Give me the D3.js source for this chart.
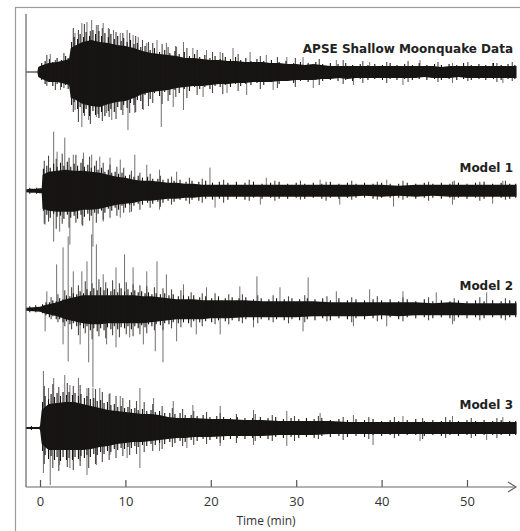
<!DOCTYPE html>
<html>
<head>
<meta charset="utf-8">
<script src="https://cdn.jsdelivr.net/npm/d3@7"></script>
<style>
  html, body { margin: 0; padding: 0; background: #fff; }
  svg { display: block; }
  .tick text { font-family: "Open Sans", sans-serif; font-size: 13px; fill: #333; }
  .label { font-family: "DejaVu Sans", sans-serif; font-weight: bold; font-size: 12px; fill: #222; }
</style>
</head>
<body>
<svg id="chart"></svg>
<script>
const width = 520;
const height = 531;

const traceNames = ["APSE Shallow Moonquake Data", "Model 1", "Model 2", "Model 3"];
const xTicks = [0, 10, 20, 30, 40, 50];

// solid inner part of each trace: [minute, upper, lower]
const dataCore = [[-1.6,0.5,0.5],[-0.3,0.5,0.5],[-0.2,5,5],[0,6,6],[1,9,10],[2,10,10],[3,12,12],[3.4,13,13],[3.6,24,26],[4,26,27],[5,30,32],[6,32,34],[7,30,35],[8,29,32],[9,27,30],[10,26,29],[11,24,26],[12,21,22],[13,19,20],[14,18,19],[15,17,18],[16,16,16],[17,14,15],[18,14,14],[19,13,14],[20,12,13],[21,12,12],[22,11,12],[23,11,11],[24,10,11],[25,10,10],[26,10,10],[27,9,10],[28,9,9],[29,8,9],[30,8,8],[31,7,8],[32,8,8],[33,7,7],[34,6,7],[35,6,6],[36,6,7],[37,6,6],[38,6,6],[39,6,6],[40,6,6],[41,6,6],[42,6,6],[43,6,6],[44,6,6],[45,6,5],[46,6,6],[47,5,6],[48,6,6],[49,6,5],[50,6,6],[51,6,6],[52,6,6],[53,6,6],[54,6,6],[55,6,6],[55.8,6,6]];
const model1Core = [[-1.6,1.5,1.5],[-1,2,2],[-0.5,2,2],[0,2.5,2.5],[0.2,2.5,2.5],[0.3,16,18],[1,19,20],[2,20,21],[3,21,21],[4,20,21],[5,20,19],[6,19,19],[7,18,18],[8,16,16],[9,14,14],[10,13,13],[11,11,12],[12,10,10],[13,10,10],[14,9,9],[15,8,8],[16,8,8],[17,7,7],[18,7,7],[19,6,6],[20,6,6],[22,6,6],[24,6,6],[26,6,6],[28,6,6],[30,6,6],[32,6,6],[34,6,6],[36,6,6],[38,6,5],[40,6,6],[42,5,5],[44,6,6],[46,6,5],[48,6,6],[50,6,6],[52,6,6],[54,6,6],[55.8,6,6]];
const model2Core = [[-1.6,1.5,1.5],[0,2.5,2.5],[0.5,4,4],[1,5,5],[2,7,7],[3,10,10],[4,12,12],[5,14,14],[6,14,15],[7,14,15],[8,14,14],[9,14,14],[10,14,14],[11,14,14],[12,13,14],[13,13,13],[14,12,12],[15,11,11],[16,10,10],[17,10,10],[18,10,10],[19,9,10],[20,9,9],[22,9,9],[24,9,8],[26,8,8],[28,8,8],[30,8,8],[32,8,7],[34,7,7],[36,7,7],[38,7,7],[40,7,6],[42,7,7],[44,7,6],[46,6,6],[48,7,6],[50,6,6],[52,6,6],[54,6,6],[55.8,6,6]];
const model3Core = [[-1.6,1,1],[-0.1,1,1],[0,2,2],[0.2,18,16],[1,24,22],[2,25,22],[3,26,22],[4,26,22],[5,24,22],[6,22,21],[7,20,19],[8,18,18],[9,17,16],[10,16,15],[11,15,14],[12,14,14],[13,14,13],[14,13,12],[15,11,11],[16,10,10],[17,10,10],[18,10,9],[20,9,9],[22,9,8],[24,8,8],[26,8,8],[28,7,7],[30,7,7],[32,7,7],[34,7,6],[36,6,6],[38,6,6],[40,6,6],[42,6,6],[44,6,6],[46,6,6],[48,6,6],[50,6,6],[52,6,6],[54,6,6],[55.8,6,6]];

// black wiggles making the ragged edge of the dense part: [minute, upper, lower]
const dataHair = [[0.2,9,8],[0.6,11,12],[1.1,13,10],[1.5,10,14],[2,14,12],[2.5,12,15],[3,16,13],[3.3,14,17],[3.7,30,33],[4,35,30],[4.4,33,37],[4.7,38,35],[5.1,35,41],[5.4,40,37],[5.8,36,44],[6.2,42,39],[6.5,38,43],[6.9,41,46],[7.2,36,40],[7.6,39,44],[8,35,39],[8.3,38,37],[8.7,33,40],[9.1,36,35],[9.5,31,38],[9.8,34,33],[10.2,30,36],[10.6,32,31],[11,28,33],[11.4,29,28],[11.8,25,29],[12.3,26,23],[12.9,22,27],[13.4,24,21],[14,20,24],[14.6,22,20],[15.2,19,23],[15.8,21,18],[16.3,18,21],[16.9,20,17],[17.5,16,19],[18.1,18,15],[18.7,15,17],[19.3,17,15],[19.9,14,17],[20.5,16,14],[21.1,13,15],[21.7,15,13],[22.3,13,15],[22.9,15,12],[23.5,12,14],[24.1,14,12],[24.7,11,13],[25.4,13,11],[26.2,11,13],[27.1,12,10],[28,10,12],[28.8,11,9],[29.7,9,11],[30.5,10,9],[31.4,9,10],[32.3,10,8],[33.1,8,9],[34,9,8],[34.9,8,9],[35.8,9,8],[36.6,7,9],[37.5,8,7],[38.4,7,8],[39.2,8,7],[40.1,7,8],[41,9,7],[41.8,7,8],[42.7,8,7],[43.6,7,8],[44.4,9,7],[45.3,7,8],[46.2,8,7],[47,7,8],[47.9,8,7],[48.8,7,8],[49.6,9,7],[50.5,7,8],[51.4,8,7],[52.2,7,8],[53.1,9,7],[54,7,8],[54.8,8,7],[55.6,7,7]];
const model1Hair = [[-1.2,3,3],[-0.4,3,3],[0.4,22,20],[0.8,25,24],[1.2,23,27],[1.6,27,23],[2,24,26],[2.4,28,25],[2.8,25,28],[3.2,29,24],[3.6,24,27],[4,27,25],[4.4,25,28],[4.8,28,24],[5.2,24,26],[5.6,26,23],[6,23,25],[6.4,25,22],[6.8,21,23],[7.2,23,20],[7.6,19,22],[8,21,18],[8.4,18,20],[8.8,19,17],[9.2,17,19],[9.6,18,15],[10,15,17],[10.5,16,14],[11,14,15],[11.5,15,13],[12,13,14],[12.6,14,12],[13.2,12,13],[13.8,12,11],[14.4,11,12],[15,12,10],[15.7,10,11],[16.4,11,9],[17.1,9,10],[17.8,10,9],[18.6,9,10],[19.4,10,8],[20.2,8,9],[21,9,8],[22,8,9],[23,9,8],[24,8,9],[25,9,7],[26,7,8],[27,8,7],[28,9,8],[29,7,8],[30,8,7],[31,7,8],[32,8,7],[33,7,8],[34,9,7],[35,7,8],[36,8,7],[37,7,7],[38,8,7],[39,7,8],[40,8,7],[41,7,7],[42,7,7],[43,8,7],[44,7,8],[45,8,7],[46,7,7],[47,8,8],[48,7,7],[49,8,7],[50,7,8],[51,8,7],[52,9,8],[53,7,7],[54,8,7],[55,7,8],[55.7,7,7]];
const model2Hair = [[-1.2,3,3],[-0.5,4,3],[0.3,5,4],[0.7,7,6],[1.1,7,8],[1.5,9,7],[1.9,8,10],[2.3,11,10],[2.7,10,13],[3.1,14,12],[3.5,13,15],[3.9,16,14],[4.3,15,17],[4.7,18,16],[5.1,16,19],[5.5,20,17],[5.9,18,21],[6.3,21,19],[6.7,19,22],[7.1,22,19],[7.5,19,21],[7.9,21,18],[8.3,18,20],[8.7,20,17],[9.1,17,20],[9.5,21,18],[9.9,18,19],[10.3,20,17],[10.7,17,20],[11.1,19,17],[11.5,17,19],[11.9,18,16],[12.3,16,18],[12.7,17,15],[13.1,15,17],[13.6,16,15],[14.1,15,16],[14.6,16,14],[15.1,14,15],[15.6,15,13],[16.2,13,14],[16.8,14,13],[17.4,13,14],[18,14,12],[18.7,12,13],[19.4,13,12],[20.1,11,13],[20.9,13,11],[21.7,11,12],[22.5,12,11],[23.3,11,12],[24.1,12,10],[25,10,11],[25.9,11,10],[26.8,10,11],[27.7,11,10],[28.6,10,11],[29.5,11,10],[30.4,10,11],[31.3,11,10],[32.2,10,11],[33.1,11,9],[34,9,11],[35,11,9],[36,9,10],[37,10,9],[38,9,10],[39,10,9],[40,9,10],[41,10,8],[42,8,10],[43,10,8],[44,8,9],[45,10,8],[46,8,9],[47,9,8],[48,8,9],[49,9,8],[50,8,9],[51,9,8],[52,8,9],[53,9,8],[54,8,9],[55,9,8],[55.7,8,8]];
const model3Hair = [[-1,2,2],[0.3,26,23],[0.6,32,27],[1,29,31],[1.3,34,28],[1.7,31,32],[2,35,29],[2.4,32,33],[2.7,36,29],[3.1,33,32],[3.4,36,30],[3.8,33,32],[4.1,35,29],[4.5,32,31],[4.8,34,28],[5.2,30,30],[5.5,32,27],[5.9,29,29],[6.3,30,26],[6.7,27,27],[7.1,28,24],[7.5,25,26],[7.9,26,23],[8.3,23,24],[8.7,24,21],[9.1,21,22],[9.5,22,20],[9.9,20,21],[10.3,21,19],[10.7,19,20],[11.1,20,18],[11.5,18,19],[12,19,17],[12.5,17,18],[13,18,16],[13.5,16,17],[14,17,15],[14.6,15,16],[15.2,15,14],[15.8,14,15],[16.4,15,13],[17,13,14],[17.7,13,12],[18.4,12,13],[19.1,13,11],[19.9,11,12],[20.7,12,11],[21.5,11,12],[22.3,10,11],[23.1,11,10],[24,10,11],[24.9,10,10],[25.8,11,10],[26.7,10,11],[27.6,11,9],[28.5,9,10],[29.4,10,9],[30.3,9,10],[31.2,10,9],[32.1,9,10],[33,10,8],[34,8,9],[35,9,8],[36,8,9],[37,9,8],[38,8,9],[39,9,7],[40,7,8],[41,8,7],[42,7,8],[43,8,7],[44,9,7],[45,7,8],[46,8,7],[47,7,8],[48,8,7],[49,7,8],[50,8,7],[51,7,8],[52,8,7],[53,7,7],[54,8,7],[55,7,8],[55.7,7,7]];

// grey wiggles just outside the dense part: [minute, upper, lower]
const dataFringe = [[0.8,17,14],[1.8,12,18],[2.8,19,16],[3.9,44,40],[4.5,42,50],[5.2,48,44],[5.9,41,52],[6.8,47,42],[7.3,44,49],[8.1,43,45],[8.9,40,47],[9.7,39,43],[10.5,39,41],[11.2,36,40],[12,32,37],[12.7,30,34],[13.2,29,31],[14.3,28,32],[15,25,29],[15.9,26,25],[17.2,24,26],[18.4,22,23],[20.2,20,21],[21.4,19,22],[23.2,18,19],[25.8,16,17],[27.8,15,16],[29.9,14,15],[32.7,13,13],[35.5,12,12],[37.8,11,11],[40.6,10,11],[43.1,11,10],[46.6,10,10],[50.1,10,9],[53.5,9,10],[55.3,10,9]];
const model1Fringe = [[0.5,30,33],[1,35,31],[1.9,32,38],[2.6,37,33],[3.4,33,37],[4.2,36,32],[5,32,35],[5.8,34,30],[6.6,30,32],[7.4,28,29],[8.2,26,27],[9,24,25],[9.8,23,22],[10.7,20,21],[11.7,18,19],[12.9,17,17],[14.1,15,16],[15.4,14,14],[17.5,13,13],[19,12,12],[21.5,11,12],[24.5,11,10],[27.5,10,10],[30.5,10,9],[33.5,9,10],[36.5,10,9],[39.5,9,9],[42.5,10,9],[45.5,9,10],[48.5,10,9],[51.5,9,10],[54.5,10,9]];
const model2Fringe = [[1.3,12,10],[2.1,15,13],[2.9,19,17],[3.7,22,20],[4.5,24,26],[5.3,28,24],[6.1,26,30],[6.9,30,27],[7.7,27,29],[8.5,29,26],[9.3,26,28],[10.1,27,25],[10.9,25,27],[11.7,24,25],[12.5,23,24],[13.4,22,21],[14.4,21,21],[15.4,20,19],[16.5,19,18],[17.7,17,18],[19,16,17],[20.5,16,15],[22.1,15,15],[23.7,15,14],[25.5,14,14],[27.3,14,13],[29.1,13,14],[31,14,13],[33.6,13,12],[36.5,12,13],[39.5,13,12],[42.5,12,12],[45.5,12,11],[48.5,11,12],[51.5,12,11],[54.5,11,11]];
const model3Fringe = [[0.5,42,36],[1.5,44,40],[2.2,41,43],[3.2,45,39],[3.9,42,42],[4.7,43,38],[5.7,40,40],[6.5,39,36],[7.3,36,34],[8.1,34,32],[8.9,32,30],[9.7,30,28],[10.5,28,27],[11.3,27,26],[12.2,26,24],[13.2,24,23],[14.3,22,21],[15.5,20,19],[16.7,19,18],[18,17,17],[19.5,16,16],[21.1,15,15],[23,14,15],[25.2,14,13],[27.2,13,13],[29.8,12,13],[32.6,12,11],[35.5,11,12],[38.5,11,11],[41.5,11,10],[44.8,10,11],[47.5,11,10],[50.5,10,10],[53.5,10,10]];

// single large excursions: [minute, amplitude] (+ up, - down)
const dataSpikes = [[1.2,18],[2.4,-18],[4.1,39],[4.9,49],[5.5,50],[6.05,52],[6.6,47],[7.4,49],[8,44],[8.6,42],[9.4,39],[10.2,42],[10.9,37],[11.5,35],[12.5,29],[13.7,32],[14.8,29],[16,25],[16.8,30],[17.9,24],[19.5,22],[21.1,20],[22.6,24],[24.6,20],[26.5,17],[28.9,15],[30.8,15],[34.7,12],[38.6,10],[44.5,12],[48.3,9],[53,9],[4.1,-38],[4.9,-55],[5.7,-48],[6.6,-45],[7.8,-41],[8.4,-48],[10.3,-58],[11.1,-41],[12.1,-38],[14.2,-55],[15.6,-35],[16.8,-38],[19.1,-25],[21.9,-21],[24.2,-23],[27.3,-18],[32,-16],[36.7,-13],[42.5,-13],[48.3,-11],[54.2,-11]];
const model1Spikes = [[1.6,59],[2.9,53],[2,39],[3.9,36],[5.1,38],[6.05,36],[7,34],[8.2,33],[9.4,31],[11.1,36],[12.5,26],[14,21],[16,19],[19.9,23],[26.5,13],[32.8,11],[40.6,11],[48.3,9],[54.2,10],[0.6,-34],[1.6,-51],[3.5,-54],[6.2,-56],[2.3,-41],[4.9,-34],[7.4,-31],[9.4,-27],[10.5,-22],[14,-19],[20.5,-17],[25.8,-14],[35.1,-14],[41.4,-16],[48.3,-14],[53,-13]];
const model2Spikes = [[0.8,18],[1.95,45],[2.7,62],[3.3,73],[3.9,38],[4.9,38],[5.5,48],[6.05,75],[6.6,65],[7.4,35],[8.9,42],[9.9,55],[10.9,42],[12.5,38],[13.7,48],[14.8,35],[16.8,25],[19.5,22],[23.4,23],[25.4,33],[28.1,22],[31.4,32],[34.7,18],[38.6,20],[42.5,18],[46.4,17],[52.3,17],[0.6,-22],[2.7,-35],[3.3,-52],[4.7,-35],[5.7,-53],[6.2,-78],[7.8,-35],[8.9,-38],[10.5,-28],[12.1,-35],[13.5,-42],[14.4,-53],[16,-32],[18.3,-25],[21.1,-25],[25,-18],[30.8,-22],[36.7,-17],[40.6,-17],[48.3,-15]];
const model3Spikes = [[0.4,57],[1,40],[1.6,50],[2.9,53],[3.5,43],[4.5,50],[5.5,40],[6.2,40],[7,40],[8.2,35],[9.4,32],[11.7,40],[13.3,30],[15.6,27],[17.9,23],[21.1,22],[25,18],[28.9,17],[32.8,15],[36.7,13],[42.5,12],[48.3,12],[54.2,11],[0.4,-45],[1.2,-57],[2.3,-37],[3.5,-40],[4.7,-33],[5.5,-47],[6.6,-37],[8.2,-27],[10.2,-30],[11.7,-40],[14,-23],[17.2,-20],[21.1,-18],[25,-17],[28.9,-18],[39,-17],[44.5,-13],[52.3,-12]];

const traces = [
  { name: traceNames[0], core: dataCore, hair: dataHair, fringe: dataFringe, spikes: dataSpikes },
  { name: traceNames[1], core: model1Core, hair: model1Hair, fringe: model1Fringe, spikes: model1Spikes },
  { name: traceNames[2], core: model2Core, hair: model2Hair, fringe: model2Fringe, spikes: model2Spikes },
  { name: traceNames[3], core: model3Core, hair: model3Hair, fringe: model3Fringe, spikes: model3Spikes }
];

const svg = d3.select("#chart").attr("width", width).attr("height", height);

// outer frame, clipped by the window on the right and bottom
svg.append("rect")
  .attr("x", 15.5).attr("y", 7.5)
  .attr("width", 530).attr("height", 540)
  .attr("fill", "none").attr("stroke", "#9a9a9a").attr("stroke-width", 1.2);

const x = d3.scaleLinear().domain([0, 50]).range([40, 467]);
const row = d3.scalePoint().domain(traceNames).range([72, 428]);
const axisY = 487;

// vertical axis
svg.append("line")
  .attr("x1", 26).attr("x2", 26).attr("y1", 14).attr("y2", axisY)
  .attr("stroke", "#8a8a8a").attr("stroke-width", 1.6);

const area = d3.area().x((d) => x(d[0]));

function wiggles(g, data, y, color) {
  g.append("g")
    .selectAll("line")
    .data(data)
    .join("line")
    .attr("x1", (d) => x(d[0])).attr("x2", (d) => x(d[0]))
    .attr("y1", (d) => y(-d[2])).attr("y2", (d) => y(d[1]))
    .attr("stroke", color).attr("stroke-width", 1.1);
}

traces.forEach((tr) => {
  const base = row(tr.name);
  const y = d3.scaleLinear().domain([-60, 60]).range([base + 60, base - 60]);
  const g = svg.append("g").attr("class", "trace");

  g.append("g")
    .selectAll("line")
    .data(tr.spikes)
    .join("line")
    .attr("x1", (d) => x(d[0])).attr("x2", (d) => x(d[0]))
    .attr("y1", y(0)).attr("y2", (d) => y(d[1]))
    .attr("stroke", "#707070").attr("stroke-width", 1);

  wiggles(g, tr.fringe, y, "#4d4848");

  g.append("path")
    .datum(tr.core)
    .attr("d", area.y0((d) => y(-d[2])).y1((d) => y(d[1])))
    .attr("fill", "#171414");

  wiggles(g, tr.hair, y, "#171414");

  g.append("text")
    .attr("class", "label")
    .attr("x", 513)
    .attr("y", base - 19)
    .attr("text-anchor", "end")
    .text(tr.name);
});

// time axis with upward ticks
svg.append("g")
  .attr("transform", `translate(0,${axisY})`)
  .call(d3.axisBottom(x).tickValues(xTicks).tickSize(-7).tickPadding(10).tickFormat(d3.format("d")))
  .call((g) => g.select(".domain").remove())
  .call((g) => g.selectAll(".tick line").attr("stroke", "#555").attr("stroke-width", 1.2));

svg.append("line")
  .attr("x1", 26).attr("x2", 516).attr("y1", axisY).attr("y2", axisY)
  .attr("stroke", "#666").attr("stroke-width", 1.2);
svg.append("path")
  .attr("d", `M508,${axisY - 5}L516,${axisY}L508,${axisY + 5}`)
  .attr("fill", "none").attr("stroke", "#666").attr("stroke-width", 1.2);

svg.append("text")
  .attr("x", 266).attr("y", 525)
  .attr("text-anchor", "middle")
  .style("font-family", "'Open Sans', sans-serif")
  .style("font-size", "12px")
  .style("fill", "#333")
  .text("Time (min)");
</script>
</body>
</html>
